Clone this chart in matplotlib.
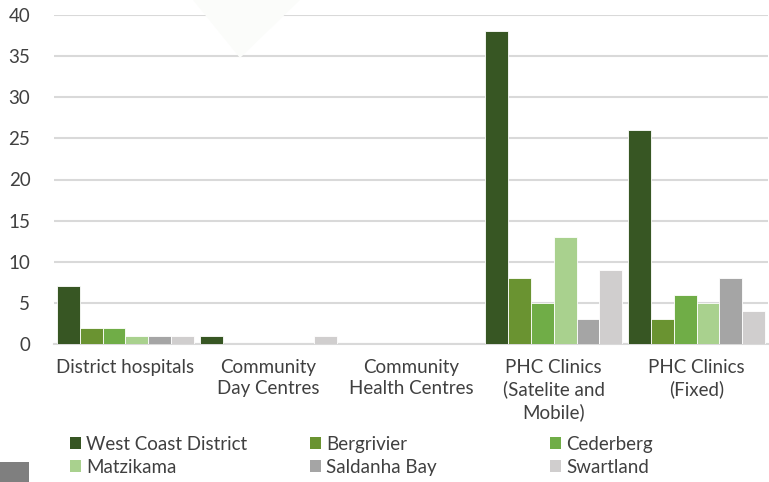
import matplotlib
matplotlib.use("Agg")
import matplotlib.pyplot as plt
import numpy as np
from matplotlib.patches import Polygon, Rectangle, Patch

categories = ["District hospitals", "Community\nDay Centres", "Community\nHealth Centres",
              "PHC Clinics\n(Satelite and\nMobile)", "PHC Clinics\n(Fixed)"]
series_names = ["West Coast District", "Bergrivier", "Cederberg",
                "Matzikama", "Saldanha Bay", "Swartland"]
west_coast = [7, 1, 0, 38, 26]
bergrivier = [2, 0, 0, 8, 3]
cederberg = [2, 0, 0, 5, 6]
matzikama = [1, 0, 0, 13, 5]
saldanha = [1, 0, 0, 3, 8]
swartland = [1, 1, 0, 9, 4]
yticks = [0, 5, 10, 15, 20, 25, 30, 35, 40]

colors = ["#375623", "#6A9331", "#70AD47", "#A9D18E", "#A5A5A5", "#D0CECE"]
series = [west_coast, bergrivier, cederberg, matzikama, saldanha, swartland]

plt.rcParams['font.family'] = ['Lato', 'DejaVu Sans']
text_color = "#404040"
fs = 13.5

fig = plt.figure(figsize=(7.69, 4.82), dpi=100)
ax = fig.add_axes([54/769, 1-344/482, 714/769, 329/482])

# faint watermark and grey square
fig.patches.append(Polygon([[193/769, 1.0], [300/769, 1.0], [240/769, 1-58/482]],
                           closed=True, transform=fig.transFigure,
                           facecolor="#FBFCFA", edgecolor="none", zorder=0))
fig.patches.append(Rectangle((0, 0), 29/769, 20/482, transform=fig.transFigure,
                             facecolor="#7F7F7F", edgecolor="none", zorder=0))
ax.set_facecolor("none")

x = np.arange(len(categories))
n = len(series)
group_w = 0.96
bw = group_w / n
for i, (vals, c) in enumerate(zip(series, colors)):
    ax.bar(x - group_w/2 + bw*(i+0.5), vals, width=bw, color=c,
           edgecolor="white", linewidth=0.6, zorder=3, label=series_names[i])

ax.set_xlim(-0.5, len(categories)-0.5)
ax.set_ylim(0, 40)
ax.set_yticks(yticks)
ax.set_xticks(x)
ax.set_xticklabels(categories, linespacing=1.3)
ax.yaxis.grid(True, color="#D9D9D9", linewidth=1.5, zorder=0)
ax.set_axisbelow(True)
for s in ["top", "right", "left"]:
    ax.spines[s].set_visible(False)
ax.spines["bottom"].set_color("#D9D9D9")
ax.spines["bottom"].set_linewidth(1.5)
ax.tick_params(axis="both", length=0, labelsize=fs, colors=text_color)
ax.tick_params(axis="y", pad=17)
ax.tick_params(axis="x", pad=11)

# legend: three columns, two rows (row-wise order)
col_x = [70/769, 310/769, 550/769]
for j in range(3):
    hs = [Patch(facecolor=colors[j], edgecolor="none"),
          Patch(facecolor=colors[j+3], edgecolor="none")]
    labs = [series_names[j], series_names[j+3]]
    leg = fig.legend(hs, labs, loc="upper left", bbox_to_anchor=(col_x[j], 1-436/482),
                     frameon=False, fontsize=fs, handlelength=0.6, handleheight=0.6,
                     handletextpad=0.25, labelspacing=0.3, borderpad=0, borderaxespad=0)
    for t in leg.get_texts():
        t.set_color(text_color)

fig.savefig("out.png", dpi=100)
